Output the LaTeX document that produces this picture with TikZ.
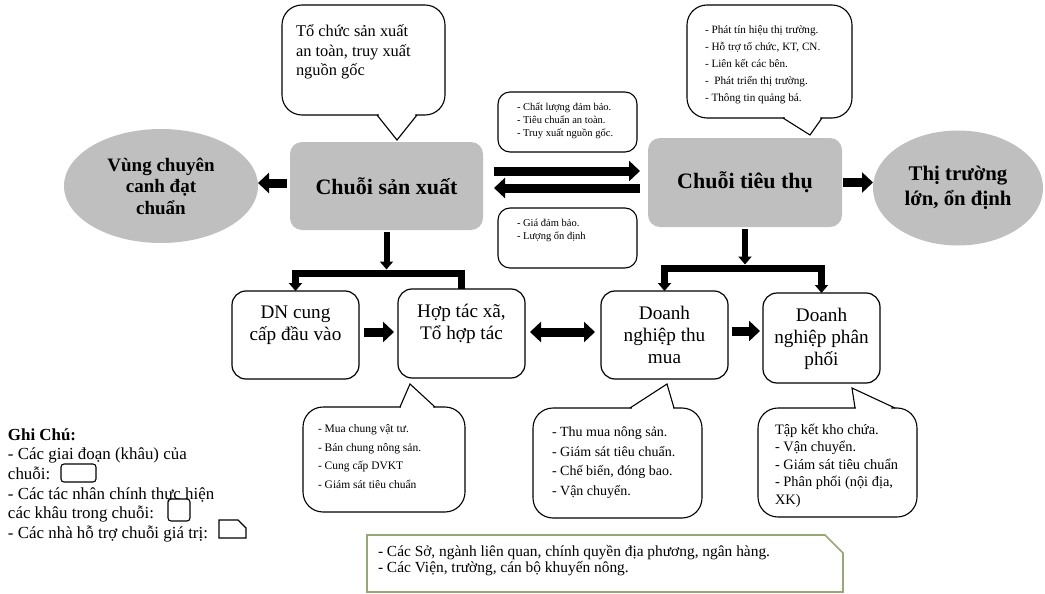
\documentclass[tikz,border=0pt]{standalone}
\usepackage{fontspec}
\setmainfont{Liberation Serif}
\usetikzlibrary{arrows.meta,shapes.geometric,calc}
\definecolor{chaingray}{RGB}{191,191,191}
\definecolor{suppgreen}{RGB}{150,168,118}
\begin{document}
\begin{tikzpicture}[x=1pt,y=-1pt, line join=miter,
  every node/.style={inner sep=0pt,outer sep=0pt},
  chainbox/.style={fill=chaingray, rounded corners=12pt, font=\fontsize{22}{26}\selectfont\bfseries},
  oval/.style={ellipse, fill=chaingray, align=center},
  actorbox/.style={draw, line width=1.2pt, rounded corners=14pt, fill=white},
  infobox/.style={draw, line width=1.1pt, rounded corners=12pt, fill=white},
  boxtext/.style={anchor=north, align=center, font=\fontsize{19.2}{22}\selectfont},
  bub/.style={draw, line width=1.1pt, fill=white, rounded corners=20pt},
  tail/.style={line width=1.1pt},
  note/.style={anchor=north west, align=left},
  blk/.style={line width=9pt, -{Triangle[length=11pt,width=20pt]}},
  dbl/.style={line width=9pt, {Triangle[length=11pt,width=20pt]}-{Triangle[length=11pt,width=20pt]}},
  stem/.style={line width=6pt, -{Triangle[length=8pt,width=13pt]}},
  bar/.style={line width=7pt},
  bartip/.style={-{Triangle[length=8pt,width=13pt]}},
  bartips/.style={{Triangle[length=8pt,width=13pt]}-{Triangle[length=8pt,width=13pt]}},
  supp/.style={draw=suppgreen, line width=1.6pt},
  legendbox/.style={draw, line width=1.1pt}
]
\useasboundingbox (0,0) rectangle (1045,594);

% ---------- chain boxes and ellipses ----------
\node[chainbox, minimum width=193pt, minimum height=88pt] (csx) at (386.5,186) {Chuỗi sản xuất};
\node[chainbox, minimum width=194pt, minimum height=89pt] (ctt) at (745,182.5) {Chuỗi tiêu thụ};
\node[oval, minimum width=194pt, minimum height=114pt, font=\fontsize{19}{21.5}\selectfont\bfseries] (vung) at (161,186) {Vùng chuyên\\canh đạt\\chuẩn};
\node[oval, minimum width=170pt, minimum height=115pt, font=\fontsize{20.8}{25}\selectfont\bfseries] (tt) at (958,188) {Thị trường\\lớn, ổn định};

% ---------- actor boxes ----------
\node[actorbox, minimum width=127pt, minimum height=88pt] (dn) at (295.5,335) {};
\node[actorbox, minimum width=127pt, minimum height=89pt] (htx) at (461.5,333.5) {};
\node[actorbox, minimum width=127pt, minimum height=88pt] (dntm) at (664.5,335) {};
\node[actorbox, minimum width=117pt, minimum height=90pt] (dnpp) at (821.5,338) {};
\node[boxtext] (dnt) at ($(dn.north)+(0,15)$) {DN cung\\cấp đầu vào};
\node[boxtext] (htxt) at ($(htx.north)+(0,15)$) {Hợp tác xã,\\Tổ hợp tác};
\node[boxtext] (dntmt) at ($(dntm.north)+(0,15.5)$) {Doanh\\nghiệp thu\\mua};
\node[boxtext] (dnppt) at ($(dnpp.north)+(0,15.5)$) {Doanh\\nghiệp phân\\phối};

% ---------- middle info boxes ----------
\node[infobox, minimum width=139pt, minimum height=60pt] (q1) at (567.5,122) {};
\node[infobox, minimum width=139pt, minimum height=60pt] (q2) at (567.5,238) {};
\node[note, font=\fontsize{10.5}{13}\selectfont] (q1t) at (517,103) {- Chất lượng đảm bảo.\\- Tiêu chuẩn an toàn.\\- Truy xuất nguồn gốc.};
\node[note, font=\fontsize{10.5}{13}\selectfont] (q2t) at (517,219.5) {- Giá đảm bảo.\\- Lượng ổn định};

% ---------- speech bubbles ----------
% top left
\draw[bub] (282,5) rectangle (445,115);
\fill[white] (379,112) -- (379,116.6) -- (397,140) -- (415,116.6) -- (415,112) -- cycle;
\draw[tail] (377,115) -- (397,140) -- (417,115);
\node[note, font=\fontsize{16.4}{19.5}\selectfont] (s1t) at (296,25) {Tổ chức sản xuất\\an toàn, truy xuất\\nguồn gốc};
% top right
\draw[bub] (687,5) rectangle (852,118);
\fill[white] (785,115) -- (785,119.6) -- (810,135) -- (820,119.6) -- (820,115) -- cycle;
\draw[tail] (783,118) -- (810,135) -- (822,118);
\node[note, font=\fontsize{11.2}{17}\selectfont] (s2t) at (705,25.5) {- Phát tín hiệu thị trường.\\- Hỗ trợ tổ chức, KT, CN.\\- Liên kết các bên.\\-\ \ Phát triển thị trường.\\- Thông tin quảng bá.};
% bubble under HTX
\draw[bub] (303,407) rectangle (465,512);
\fill[white] (401,410) -- (401,405.4) -- (410,384) -- (433,405.4) -- (433,410) -- cycle;
\draw[tail] (400,407) -- (410,384) -- (435,407);
\node[note, font=\fontsize{11.5}{18.5}\selectfont] (s3t) at (318,424.5) {- Mua chung vật tư.\\- Bán chung nông sản.\\- Cung cấp DVKT\\- Giám sát tiêu chuẩn};
% bubble under DN thu mua
\draw[bub] (533,408) rectangle (702,518);
\fill[white] (632,411) -- (632,406.4) -- (667,384) -- (673,406.4) -- (673,411) -- cycle;
\draw[tail] (630,408) -- (667,384) -- (674,408);
\node[note, font=\fontsize{14}{19.5}\selectfont] (s4t) at (552,427) {- Thu mua nông sản.\\- Giám sát tiêu chuẩn.\\- Chế biến, đóng bao.\\- Vận chuyển.};
% bubble under DN phan phoi
\draw[bub] (758,408) rectangle (917,517);
\fill[white] (856,411) -- (856,406.4) -- (852,388) -- (891,406.4) -- (891,411) -- cycle;
\draw[tail] (855,408) -- (852,388) -- (895,408);
\node[note, font=\fontsize{14.4}{17.5}\selectfont] (s5t) at (775,424) {Tập kết kho chứa.\\- Vận chuyển.\\- Giám sát tiêu chuẩn\\- Phân phối (nội địa,\\XK)};

% ---------- support box ----------
\draw[supp] (367,535) -- (825,535) -- (843,553) -- (843,592) -- (367,592) -- cycle;
\node[note, font=\fontsize{15.4}{13.8}\selectfont] (supt) at (378,545.5) {- Các Sở, ngành liên quan, chính quyền địa phương, ngân hàng.\\- Các Viện, trường, cán bộ khuyến nông.};

% ---------- legend ----------
\node[note, font=\fontsize{16.9}{19.6}\selectfont] (legend) at (8,428.5) {\textbf{Ghi Chú:}\\- Các giai đoạn (khâu) của\\chuỗi:\\- Các tác nhân chính thực hiện\\các khâu trong chuỗi:\\- Các nhà hỗ trợ chuỗi giá trị:};
\draw[legendbox, rounded corners=3pt] (61,464) rectangle (96,482);
\draw[legendbox, rounded corners=3pt] (168,499) rectangle (190,521);
\draw[legendbox] (219,520) -- (238,520) -- (246,528) -- (246,538) -- (219,538) -- cycle;

% ---------- connectors ----------
\coordinate (a0) at ([yshift=3pt]csx.west);
\draw[blk, shorten <=3pt] (a0) -- (a0 -| vung.east);
\coordinate (m1) at ([xshift=11pt,yshift=15pt]csx.east);
\coordinate (m2) at ([xshift=11pt,yshift=-2pt]csx.east);
\draw[blk, shorten >=8pt] (m1) -- (m1 -| ctt.west);
\draw[blk, shorten <=8pt] (m2 -| ctt.west) -- (m2);
\draw[blk, shorten <=1pt] (ctt.east) -- (ctt.east -| tt.west);

\coordinate (y1) at (0,273);
\coordinate (y2) at (0,268);
\draw[stem, shorten <=2pt, shorten >=3.5pt] (csx.south) -- (csx.south |- y1);
\draw[bar, bartip] (htx.north) -- (htx.north |- y1) -- (dn.north |- y1) -- (dn.north);
\draw[stem, shorten <=2pt, shorten >=3.5pt] (ctt.south) -- (ctt.south |- y2);
\draw[bar, bartips] (dntm.north) -- (dntm.north |- y2) -- (dnpp.north |- y2) -- (dnpp.north);

\coordinate (b1) at ([yshift=3pt]dn.east);
\draw[blk, shorten <=5pt, shorten >=4pt] (b1) -- (b1 -| htx.west);
\coordinate (b2) at ([yshift=1.5pt]htx.east);
\draw[dbl, shorten <=5pt, shorten >=6pt] (b2) -- (b2 -| dntm.west);
\coordinate (b3) at ([yshift=4pt]dntm.east);
\draw[blk, shorten <=4pt, shorten >=3pt] (b3) -- (b3 -| dnpp.west);
\end{tikzpicture}
\end{document}
